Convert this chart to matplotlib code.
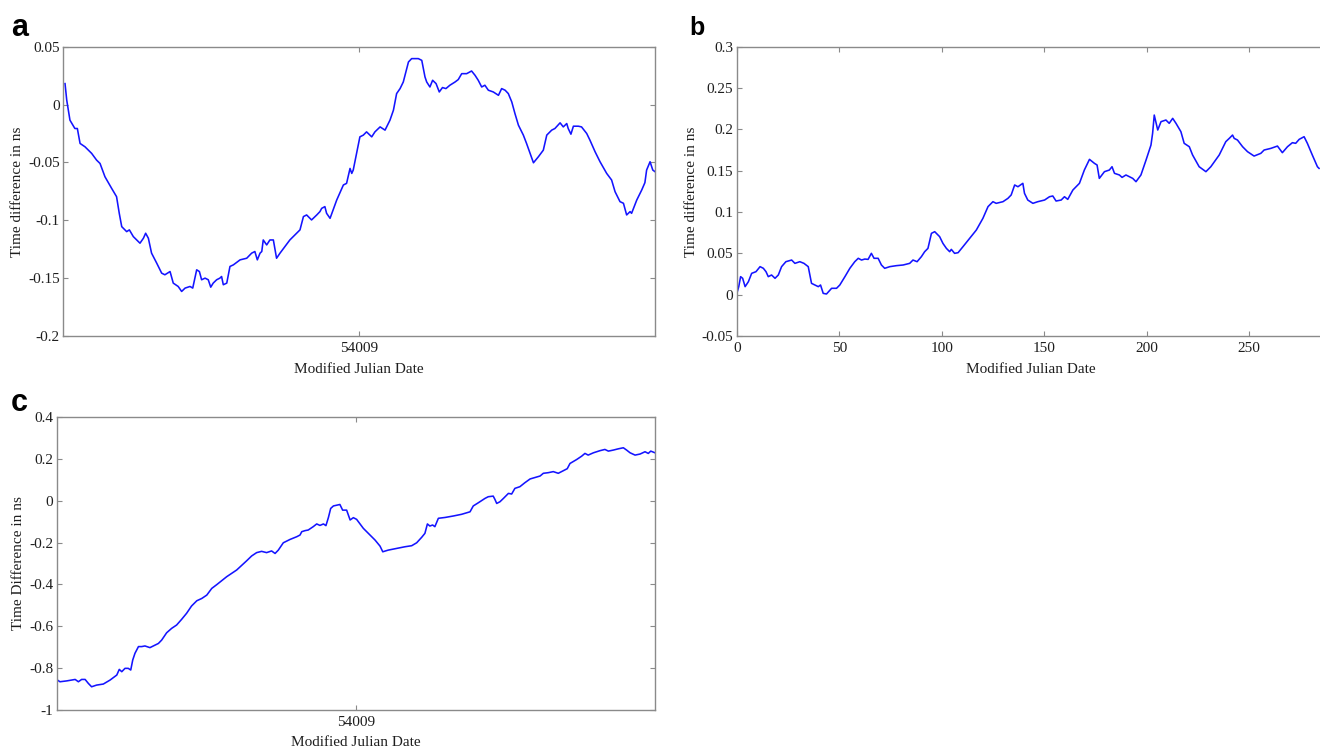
import matplotlib
matplotlib.use("Agg")
import matplotlib.pyplot as plt
import numpy as np

# ---------------- data ----------------
# Panel a: hours after MJD 54008.5, time difference (ns)
hours_a = [0.07, 0.14, 0.27, 0.47, 0.57, 0.68, 0.88, 1.15, 1.35, 1.49,
           1.69, 1.96, 2.16, 2.27, 2.37, 2.57, 2.68, 2.84, 3.11, 3.25,
           3.34, 3.45, 3.58, 3.79, 3.99, 4.12, 4.33, 4.46, 4.66, 4.80,
           4.94, 5.14, 5.25, 5.41, 5.52, 5.61, 5.75, 5.88, 5.98, 6.08,
           6.22, 6.35, 6.42, 6.49, 6.63, 6.76, 6.90, 7.17, 7.44, 7.64,
           7.77, 7.87, 7.98, 8.05, 8.11, 8.25, 8.38, 8.52, 8.65, 8.79,
           8.99, 9.19, 9.40, 9.60, 9.74, 9.87, 10.07, 10.28, 10.41, 10.48,
           10.61, 10.68, 10.82,
           11.09, 11.36, 11.49, 11.63, 11.70, 11.76, 12.03, 12.17, 12.30, 12.51,
           12.64, 12.85, 13.05, 13.25, 13.39, 13.52, 13.66, 13.79, 14.00, 14.13,
           14.40, 14.54, 14.67, 14.74, 14.87, 14.98, 15.12, 15.25, 15.38, 15.52,
           15.68, 15.89, 16.02, 16.16, 16.36, 16.56, 16.70, 16.83, 16.97, 17.10,
           17.24, 17.44, 17.65, 17.78, 17.92, 18.05, 18.19, 18.32, 18.46, 18.66,
           18.79, 19.07, 19.27, 19.47, 19.61, 19.81, 19.94, 20.15, 20.28, 20.42,
           20.48, 20.59, 20.69, 20.89, 21.02, 21.23, 21.36, 21.57, 21.77, 22.04,
           22.24, 22.38, 22.58, 22.72, 22.85, 22.99, 23.05, 23.26, 23.46, 23.59,
           23.66, 23.80, 23.91, 24.00]
td_a = [0.0181, 0.0037, -0.0135, -0.0207, -0.0207, -0.0336, -0.0365, -0.0422, -0.0480, -0.0509,
        -0.0624, -0.0724, -0.0796, -0.0940, -0.1055, -0.1098, -0.1083, -0.1141, -0.1198, -0.1155,
        -0.1112, -0.1155, -0.1284, -0.1371, -0.1457, -0.1471, -0.1443, -0.1543, -0.1572, -0.1615,
        -0.1586, -0.1572, -0.1586, -0.1428, -0.1443, -0.1514, -0.1500, -0.1514, -0.1578, -0.1543,
        -0.1514, -0.1500, -0.1486, -0.1557, -0.1543, -0.1399, -0.1385, -0.1342, -0.1328, -0.1284,
        -0.1270, -0.1342, -0.1284, -0.1270, -0.1170, -0.1213, -0.1170, -0.1170, -0.1328, -0.1284,
        -0.1227, -0.1170, -0.1126, -0.1083, -0.0968, -0.0954, -0.0997, -0.0954, -0.0925, -0.0897,
        -0.0882, -0.0940, -0.0983,
        -0.0825, -0.0695, -0.0681, -0.0552, -0.0595, -0.0566, -0.0279, -0.0264, -0.0236, -0.0279,
        -0.0236, -0.0193, -0.0221, -0.0135, -0.0049, 0.0095, 0.0138, 0.0195, 0.0368, 0.0397,
        0.0397, 0.0382, 0.0239, 0.0195, 0.0152, 0.0210, 0.0181, 0.0109, 0.0147, 0.0138,
        0.0167, 0.0195, 0.0216, 0.0267, 0.0267, 0.0290, 0.0253, 0.0210, 0.0152, 0.0167,
        0.0124, 0.0109, 0.0080, 0.0138, 0.0124, 0.0095, 0.0023, -0.0078, -0.0178, -0.0264,
        -0.0336, -0.0503, -0.0451, -0.0394, -0.0264, -0.0221, -0.0207, -0.0158, -0.0193, -0.0164,
        -0.0207, -0.0256, -0.0187, -0.0187, -0.0193, -0.0250, -0.0307, -0.0408, -0.0494, -0.0595,
        -0.0652, -0.0753, -0.0839, -0.0853, -0.0954, -0.0925, -0.0940, -0.0825, -0.0739, -0.0675,
        -0.0566, -0.0494, -0.0566, -0.0580]

# Panel b: day index, time difference (ns)
days_b = [0.3, 1.0, 1.9, 2.9, 4.1, 5.7, 7.3, 9.4, 11.4, 13.0,
          14.3, 15.4, 17.0, 18.7, 20.3, 21.9, 24.0, 26.8, 28.4, 30.8,
          32.8, 34.9, 36.5, 38.1, 39.8, 40.9, 42.2, 43.8, 46.3, 48.7,
          50.3, 52.8, 55.2, 57.6, 59.3, 60.9, 62.5, 64.1, 65.7, 67.0,
          69.0, 70.6, 72.2, 74.7, 77.9, 81.2, 84.4, 86.0, 88.0, 90.1,
          91.7, 93.3, 95.0, 96.6, 99.0, 100.6, 102.3, 103.9, 104.7, 106.3,
          108.0, 110.4, 113.6, 116.9, 120.1, 122.6,
          125.0, 126.6, 129.9, 132.3, 133.9, 135.6, 137.2, 139.6, 140.4, 142.0,
          144.5, 146.9, 150.2, 152.6, 154.2, 155.8, 158.3, 159.9, 161.5, 164.0,
          167.2, 169.6, 172.1, 174.5, 175.8, 176.9, 179.4, 181.8, 183.1, 184.3,
          186.7, 188.0, 189.9, 191.6, 193.2, 194.8, 197.2, 199.7, 202.1, 202.9,
          203.7, 205.4, 207.0, 209.4, 211.0, 212.7, 214.3, 216.7, 218.3, 220.8,
          222.4, 225.6, 228.9, 231.3, 235.4, 238.6, 240.3, 241.9, 242.7, 244.3,
          246.8, 249.2, 252.4, 255.7, 257.3, 260.6, 263.8, 266.2, 268.7, 271.1,
          272.7, 274.4, 276.8, 278.4, 280.8, 283.3, 284.1]
td_b = [0.0036, 0.0097, 0.0218, 0.0198, 0.0097, 0.0157, 0.0258, 0.0278, 0.0339, 0.0319,
        0.0278, 0.0218, 0.0238, 0.0198, 0.0238, 0.0339, 0.0399, 0.0419, 0.0379, 0.0399,
        0.0379, 0.0339, 0.0137, 0.0117, 0.0097, 0.0117, 0.0016, 0.0008, 0.0077, 0.0077,
        0.0117, 0.0218, 0.0319, 0.0399, 0.0440, 0.0419, 0.0431, 0.0427, 0.0500, 0.0440,
        0.0440, 0.0359, 0.0319, 0.0339, 0.0351, 0.0359, 0.0379, 0.0419, 0.0399, 0.0460,
        0.0520, 0.0560, 0.0742, 0.0762, 0.0702, 0.0621, 0.0560, 0.0520, 0.0548, 0.0500,
        0.0508, 0.0581, 0.0681, 0.0782, 0.0923, 0.1065,
        0.1125, 0.1105, 0.1125, 0.1165, 0.1206, 0.1327, 0.1306, 0.1347, 0.1226, 0.1145,
        0.1105, 0.1125, 0.1145, 0.1185, 0.1194, 0.1133, 0.1145, 0.1185, 0.1153, 0.1266,
        0.1347, 0.1508, 0.1637, 0.1589, 0.1569, 0.1407, 0.1488, 0.1508, 0.1548, 0.1468,
        0.1448, 0.1419, 0.1448, 0.1427, 0.1407, 0.1367, 0.1448, 0.1629, 0.1810, 0.1952,
        0.2173, 0.1992, 0.2093, 0.2113, 0.2073, 0.2133, 0.2073, 0.1972, 0.1831, 0.1790,
        0.1690, 0.1548, 0.1488, 0.1548, 0.1690, 0.1851, 0.1891, 0.1931, 0.1891, 0.1871,
        0.1790, 0.1730, 0.1677, 0.1710, 0.1750, 0.1770, 0.1798, 0.1718, 0.1790, 0.1839,
        0.1831, 0.1879, 0.1911, 0.1831, 0.1690, 0.1548, 0.1528]

# Panel c: hours after MJD 54008.5, time difference (ns)
hours_c = [0.03, 0.13, 0.40, 0.74, 0.87, 1.00, 1.14, 1.27, 1.40, 1.60,
           1.87, 2.14, 2.41, 2.51, 2.61, 2.74, 2.87, 2.97, 3.05, 3.14,
           3.28, 3.41, 3.54, 3.74, 3.88, 4.08, 4.21, 4.41, 4.61, 4.81,
           5.01, 5.21, 5.41, 5.62, 5.82, 6.02, 6.22, 6.42, 6.62, 6.82,
           7.02, 7.22, 7.42, 7.62, 7.82, 8.02, 8.22, 8.42, 8.62, 8.76,
           8.89, 9.09, 9.36, 9.63, 9.76, 9.83, 9.96, 10.09, 10.29, 10.43,
           10.56, 10.70, 10.80, 10.90, 10.99,
           11.10, 11.36, 11.47, 11.63, 11.77, 11.90, 12.03, 12.30, 12.57, 12.77,
           12.97, 13.08, 13.30, 13.64, 13.97, 14.24, 14.44, 14.64, 14.77, 14.87,
           14.97, 15.08, 15.17, 15.31, 15.58, 15.91, 16.24, 16.58, 16.71, 16.91,
           17.18, 17.31, 17.51, 17.58, 17.65, 17.78, 17.92, 18.12, 18.25, 18.38,
           18.58, 18.78, 18.99, 19.19, 19.39, 19.52, 19.72, 19.92, 20.12, 20.32,
           20.48, 20.59, 20.86, 21.06, 21.19, 21.32, 21.53, 21.79, 21.99, 22.13,
           22.33, 22.53, 22.73, 22.86, 23.00, 23.20, 23.40, 23.60, 23.73, 23.83,
           24.00]
td_c = [-0.857, -0.865, -0.861, -0.854, -0.865, -0.854, -0.854, -0.873, -0.889, -0.881,
        -0.876, -0.857, -0.833, -0.806, -0.817, -0.801, -0.801, -0.809, -0.761, -0.729,
        -0.697, -0.697, -0.694, -0.702, -0.694, -0.682, -0.666, -0.631, -0.610, -0.594,
        -0.567, -0.538, -0.503, -0.478, -0.467, -0.451, -0.419, -0.401, -0.382, -0.363,
        -0.347, -0.331, -0.309, -0.287, -0.264, -0.248, -0.242, -0.248, -0.240, -0.252,
        -0.236, -0.201, -0.185, -0.172, -0.164, -0.148, -0.143, -0.140, -0.124, -0.111,
        -0.118, -0.111, -0.119, -0.080, -0.037,
        -0.025, -0.018, -0.045, -0.045, -0.092, -0.081, -0.089, -0.132, -0.164, -0.188,
        -0.217, -0.244, -0.236, -0.228, -0.220, -0.215, -0.201, -0.175, -0.156, -0.111,
        -0.121, -0.116, -0.124, -0.084, -0.080, -0.073, -0.065, -0.053, -0.025, -0.010,
        0.011, 0.019, 0.022, 0.006, -0.013, -0.005, 0.011, 0.035, 0.032, 0.059,
        0.067, 0.086, 0.104, 0.111, 0.118, 0.131, 0.134, 0.139, 0.131, 0.143,
        0.153, 0.178, 0.197, 0.213, 0.226, 0.218, 0.229, 0.239, 0.245, 0.237,
        0.242, 0.248, 0.253, 0.242, 0.229, 0.218, 0.223, 0.234, 0.226, 0.237,
        0.229]

mjd_start = 54008.5
mjd_ticks = [54009]
mjd_ticklabels = ["54009"]

yticks_a = [-0.2, -0.15, -0.1, -0.05, 0, 0.05]
yticklabels_a = ["-0.2", "-0.15", "-0.1", "-0.05", "0", "0.05"]
xticks_b = [0, 50, 100, 150, 200, 250]
xticklabels_b = ["0", "50", "100", "150", "200", "250"]
yticks_b = [-0.05, 0, 0.05, 0.1, 0.15, 0.2, 0.25, 0.3]
yticklabels_b = ["-0.05", "0", "0.05", "0.1", "0.15", "0.2", "0.25", "0.3"]
yticks_c = [-1, -0.8, -0.6, -0.4, -0.2, 0, 0.2, 0.4]
yticklabels_c = ["-1", "-0.8", "-0.6", "-0.4", "-0.2", "0", "0.2", "0.4"]

# ---------------- figure ----------------
W, H = 1320, 749
fig = plt.figure(figsize=(W / 100, H / 100), dpi=100)
plt.rcParams['font.family'] = ['Liberation Serif', 'DejaVu Serif']

LINE = '#1414ff'
SPINE = '#8a8a8a'
TXT = '#1e1e1e'
FS = 11


def px_axes(x0, y0, x1, y1):
    return fig.add_axes([x0 / W, 1 - y1 / H, (x1 - x0) / W, (y1 - y0) / H])


def style(ax):
    for s in ax.spines.values():
        s.set_color(SPINE)
        s.set_linewidth(1.0)
    ax.tick_params(direction='in', top=True, right=True, length=3.5,
                   width=0.8, color=SPINE, labelsize=FS, labelcolor=TXT, pad=2.5)
    ax.tick_params(axis='x', pad=4)


# Panel a
axa = px_axes(63.3, 46.7, 655, 336)
axa.plot(mjd_start + np.array(hours_a) / 24.0, td_a, color=LINE, lw=1.15)
axa.set_xlim(54008.5, 54009.5)
axa.set_ylim(-0.2, 0.05)
axa.set_xticks(mjd_ticks)
axa.set_xticklabels(mjd_ticklabels)
axa.set_yticks(yticks_a)
axa.set_yticklabels(yticklabels_a)
style(axa)
axa.set_xlabel("Modified Julian Date", fontsize=FS, color=TXT)
axa.set_ylabel("Time difference in ns", fontsize=FS, color=TXT)
axa.xaxis.set_label_coords(0.5, -0.092)
axa.yaxis.set_label_coords(-0.066, 0.5)

# Panel b (extends past right edge of figure)
axb = px_axes(736.7, 46.7, 1325, 336)
axb.plot(days_b, td_b, color=LINE, lw=1.15)
axb.set_xlim(0, 287)
axb.set_ylim(-0.05, 0.3)
axb.set_xticks(xticks_b)
axb.set_xticklabels(xticklabels_b)
axb.set_yticks(yticks_b)
axb.set_yticklabels(yticklabels_b)
style(axb)
axb.set_xlabel("Modified Julian Date", fontsize=FS, color=TXT)
axb.set_ylabel("Time difference in ns", fontsize=FS, color=TXT)
axb.xaxis.set_label_coords(0.5, -0.092)
axb.yaxis.set_label_coords(-0.066, 0.5)

# Panel c
axc = px_axes(56.7, 417, 655, 710)
axc.plot(mjd_start + np.array(hours_c) / 24.0, td_c, color=LINE, lw=1.15)
axc.set_xlim(54008.5, 54009.5)
axc.set_ylim(-1, 0.4)
axc.set_xticks(mjd_ticks)
axc.set_xticklabels(mjd_ticklabels)
axc.set_yticks(yticks_c)
axc.set_yticklabels(yticklabels_c)
style(axc)
axc.set_xlabel("Modified Julian Date", fontsize=FS, color=TXT)
axc.set_ylabel("Time Difference in ns", fontsize=FS, color=TXT)
axc.xaxis.set_label_coords(0.5, -0.09)
axc.yaxis.set_label_coords(-0.053, 0.5)

# Panel letters
fig.text(11 / W, 1 - 36 / H, "a", fontsize=22, fontweight='bold',
         family='Liberation Sans', va='baseline', ha='left', color='black')
fig.text(689 / W, 1 - 35 / H, "b", fontsize=18, fontweight='bold',
         family='Liberation Sans', va='baseline', ha='left', color='black')
fig.text(11 / W, 1 - 411 / H, "c", fontsize=22, fontweight='bold',
         family='Liberation Sans', va='baseline', ha='left', color='black')

fig.savefig("out.png", dpi=100)
